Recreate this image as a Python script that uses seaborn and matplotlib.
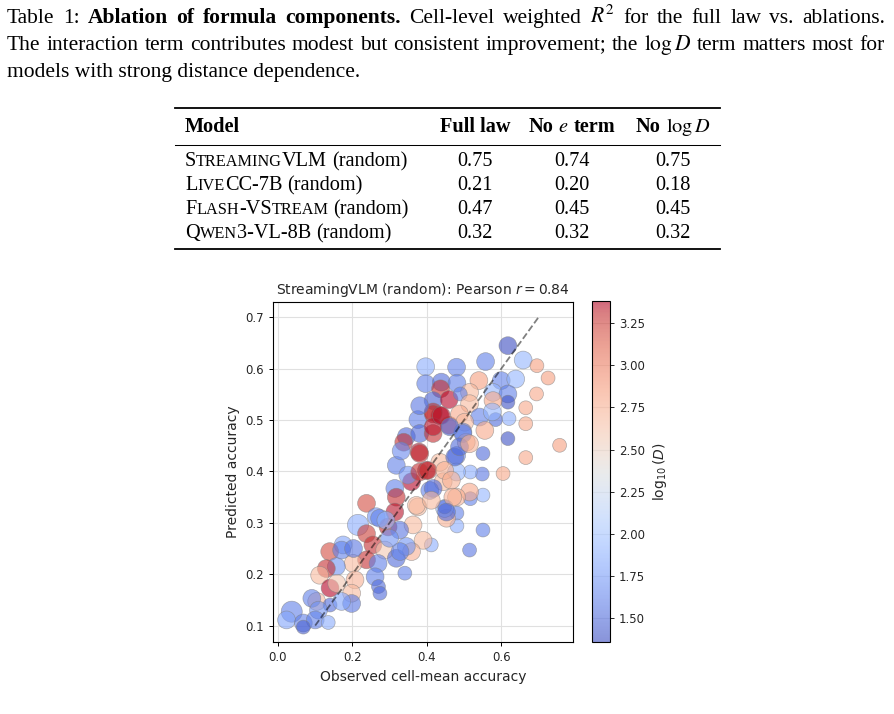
import matplotlib
matplotlib.use('Agg')
import numpy as np
import pandas as pd
import matplotlib.pyplot as plt
import seaborn as sns
from matplotlib.colors import Normalize
from matplotlib.cm import ScalarMappable
from matplotlib.lines import Line2D

# ---- table data ----
models = ['StreamingVLM', 'LiveCC-7B', 'Flash-VStream', 'Qwen3-VL-8B']
setting = '(random)'
full_law = ['0.75', '0.21', '0.47', '0.32']
no_e_term = ['0.74', '0.20', '0.45', '0.32']
no_log_d = ['0.75', '0.18', '0.45', '0.32']

# ---- scatter data (StreamingVLM, random) ----
obs = [0.618, 0.558, 0.659, 0.696, 0.397, 0.480, 0.726, 0.540, 0.600, 0.639,
       0.397, 0.439, 0.481, 0.437, 0.515, 0.417, 0.460, 0.490, 0.515, 0.578,
       0.618, 0.618, 0.578, 0.695, 0.666, 0.666, 0.542, 0.585, 0.621, 0.576,
       0.556, 0.376, 0.417, 0.435, 0.460, 0.488, 0.502, 0.345, 0.381, 0.417,
       0.497, 0.618, 0.757, 0.666, 0.605, 0.551, 0.549, 0.517, 0.551, 0.517,
       0.515, 0.480, 0.481, 0.506, 0.480, 0.480, 0.481, 0.551, 0.515, 0.412,
       0.390, 0.453, 0.448, 0.338, 0.318, 0.379, 0.399, 0.359, 0.314, 0.318,
       0.238, 0.314, 0.435, 0.444, 0.475, 0.408, 0.448, 0.376, 0.349, 0.215,
       0.264, 0.296, 0.238, 0.175, 0.139, 0.255, 0.287, 0.359, 0.363, 0.372,
       0.327, 0.318, 0.238, 0.202, 0.157, 0.130, 0.112, 0.269, 0.341, 0.345,
       0.171, 0.203, 0.328, 0.261, 0.140, 0.158, 0.207, 0.198, 0.198, 0.104,
       0.091, 0.270, 0.274, 0.140, 0.109, 0.037, 0.023, 0.068, 0.100, 0.135,
       0.068, 0.171, 0.381, 0.381, 0.403, 0.448, 0.466, 0.470, 0.417, 0.453,
       0.417, 0.417, 0.439, 0.497, 0.488, 0.462, 0.381, 0.273, 0.412, 0.515,
       0.331, 0.290, 0.300]
pred = [0.645, 0.614, 0.617, 0.606, 0.604, 0.603, 0.582, 0.577, 0.577, 0.580,
        0.571, 0.574, 0.572, 0.561, 0.554, 0.538, 0.540, 0.551, 0.532, 0.554,
        0.551, 0.535, 0.538, 0.551, 0.524, 0.493, 0.506, 0.501, 0.503, 0.516,
        0.480, 0.501, 0.516, 0.509, 0.490, 0.512, 0.496, 0.468, 0.474, 0.474,
        0.477, 0.464, 0.451, 0.427, 0.396, 0.435, 0.395, 0.399, 0.354, 0.347,
        0.360, 0.350, 0.319, 0.457, 0.431, 0.399, 0.294, 0.286, 0.247, 0.257,
        0.266, 0.309, 0.328, 0.457, 0.412, 0.438, 0.402, 0.380, 0.367, 0.350,
        0.338, 0.321, 0.418, 0.380, 0.428, 0.363, 0.331, 0.331, 0.393, 0.296,
        0.312, 0.292, 0.279, 0.257, 0.244, 0.257, 0.247, 0.244, 0.296, 0.334,
        0.286, 0.231, 0.228, 0.221, 0.215, 0.211, 0.198, 0.221, 0.202, 0.254,
        0.247, 0.250, 0.244, 0.195, 0.173, 0.182, 0.189, 0.163, 0.143, 0.147,
        0.153, 0.176, 0.163, 0.140, 0.130, 0.127, 0.111, 0.105, 0.111, 0.106,
        0.097, 0.147, 0.435, 0.399, 0.402, 0.402, 0.383, 0.350, 0.367, 0.321,
        0.512, 0.487, 0.509, 0.474, 0.448, 0.487, 0.528, 0.309, 0.344, 0.454,
        0.440, 0.305, 0.270]
log_d = [1.36, 1.60, 1.90, 2.85, 1.85, 1.60, 2.85, 2.85, 1.60, 1.90,
         1.60, 1.50, 1.60, 3.30, 2.70, 1.45, 3.38, 1.60, 2.70, 1.90,
         1.60, 1.38, 2.80, 2.80, 2.80, 2.80, 1.60, 1.50, 1.85, 1.90,
         2.80, 1.60, 3.30, 3.38, 3.30, 2.80, 2.70, 1.50, 1.50, 3.30,
         1.60, 1.38, 2.85, 2.80, 2.80, 1.50, 1.55, 1.85, 1.90, 1.60,
         2.80, 2.75, 1.60, 2.75, 1.60, 1.90, 1.85, 1.60, 1.55, 1.85,
         2.70, 2.75, 1.90, 3.30, 1.60, 3.35, 3.35, 3.38, 1.60, 3.30,
         3.20, 3.35, 2.70, 2.70, 1.50, 1.60, 1.50, 2.70, 1.70, 1.85,
         1.70, 3.30, 3.25, 1.80, 3.20, 3.30, 2.60, 2.75, 2.70, 2.70,
         1.55, 1.50, 3.30, 2.70, 1.70, 3.30, 2.70, 1.60, 1.60, 1.70,
         1.60, 1.55, 1.60, 1.60, 3.38, 2.60, 2.75, 2.70, 1.55, 2.70,
         1.60, 1.50, 1.50, 1.50, 1.70, 1.60, 1.80, 1.60, 1.60, 1.85,
         1.45, 1.80, 3.30, 3.30, 3.30, 2.75, 2.75, 2.75, 1.50, 1.50,
         3.30, 3.35, 3.35, 1.60, 1.50, 1.55, 1.55, 1.60, 2.70, 2.75,
         1.65, 1.90, 1.70]
weight = [3, 3, 3, 2, 3, 3, 2, 3, 3, 3,
          3, 3, 3, 3, 3, 3, 3, 2, 3, 3,
          3, 2, 3, 2, 2, 2, 3, 2, 2, 3,
          3, 3, 3, 3, 3, 3, 3, 3, 3, 3,
          3, 2, 2, 2, 2, 2, 2, 2, 2, 2,
          3, 3, 2, 3, 3, 3, 2, 2, 2, 2,
          3, 3, 3, 3, 3, 3, 3, 3, 3, 3,
          3, 3, 3, 3, 3, 3, 2, 3, 3, 4,
          3, 3, 3, 3, 3, 3, 3, 3, 3, 3,
          3, 3, 3, 3, 3, 3, 3, 3, 2, 3,
          3, 3, 3, 3, 3, 3, 3, 3, 3, 3,
          3, 2, 2, 2, 3, 4, 3, 3, 3, 2,
          2, 3, 3, 3, 3, 3, 3, 3, 3, 3,
          3, 3, 3, 3, 3, 3, 3, 3, 3, 3,
          3, 3, 3]
identity = [0.1, 0.7]
pearson_r = 0.84

W, H = 894, 714
fig = plt.figure(figsize=(W / 100, H / 100), dpi=100)
renderer = fig.canvas.get_renderer()

SERIF = 'Liberation Serif'
CAP_FS = 15.5   # caption size
TAB_FS = 14.6   # table size


def px(x, y):
    return x / W, 1 - y / H


def put(x, y, s, size, weight='normal'):
    return fig.text(*px(x, y), s, fontsize=size, fontweight=weight, family=SERIF,
                    math_fontfamily='stix', va='baseline', ha='left')


def width(t):
    return t.get_window_extent(renderer=renderer).width


def runs(x, y, pieces, ha='left', size=TAB_FS):
    # pieces: (text, size, weight) or None for a word space
    space = size * 100 / 72 * 0.25
    items, total = [], 0
    for p in pieces:
        if p is None:
            items.append((None, space))
            total += space
        else:
            t = put(0, y, p[0], p[1], p[2])
            w = width(t)
            items.append((t, w))
            total += w
    cx = x - total / 2 if ha == 'center' else x
    for t, w in items:
        if t is not None:
            t.set_position(px(cx, y))
        cx += w


def justify(tokens, y, x0, x1):
    texts = [put(0, y, s, CAP_FS, wt) for s, wt in tokens]
    ws = [width(t) for t in texts]
    gap = (x1 - x0 - sum(ws)) / (len(texts) - 1)
    cx = x0
    for t, w in zip(texts, ws):
        t.set_position(px(cx, y))
        cx += w + gap


def small_caps(name, k=0.8):
    pieces, cur, small = [], '', None
    for ch in name:
        is_small = ch.islower()
        if small is not None and is_small != small:
            pieces.append((cur, TAB_FS * k if small else TAB_FS, 'normal'))
            cur = ''
        cur += ch.upper()
        small = is_small
    pieces.append((cur, TAB_FS * k if small else TAB_FS, 'normal'))
    return pieces


# ---- caption ----
line1 = [('Table', 'normal'), ('1:', 'normal'), ('Ablation', 'bold'), ('of', 'bold'),
         ('formula', 'bold'), ('components.', 'bold'), ('Cell-level', 'normal'),
         ('weighted', 'normal'), ('$R^2$', 'normal'), ('for', 'normal'), ('the', 'normal'),
         ('full', 'normal'), ('law', 'normal'), ('vs.', 'normal'), ('ablations.', 'normal')]
line2 = [(w, 'normal') for w in 'The interaction term contributes modest but consistent improvement; the'.split()]
line2 += [(r'$\log D$', 'normal')]
line2 += [(w, 'normal') for w in 'term matters most for'.split()]
justify(line1, 23, 7, 885)
justify(line2, 50, 7, 885)
put(7, 77, 'models with strong distance dependence.', CAP_FS)

# ---- table ----
col_x = [475, 572, 673]
fig.add_artist(Line2D([175 / W, 720 / W], [1 - 108 / H] * 2, color='black', lw=1.3))
fig.add_artist(Line2D([175 / W, 720 / W], [1 - 145 / H] * 2, color='black', lw=0.75))
fig.add_artist(Line2D([175 / W, 720 / W], [1 - 249 / H] * 2, color='black', lw=1.3))
put(185, 132, 'Model', TAB_FS, weight='bold')
runs(col_x[0], 132, [('Full law', TAB_FS, 'bold')], ha='center')
runs(col_x[1], 132, [('No', TAB_FS, 'bold'), None, ('$e$', TAB_FS, 'normal'), None,
                     ('term', TAB_FS, 'bold')], ha='center')
runs(col_x[2], 132, [('No', TAB_FS, 'bold'), None, (r'$\log D$', TAB_FS, 'normal')], ha='center')
for i, m in enumerate(models):
    y = 166 + 24 * i
    runs(185, y, small_caps(m) + [None, (setting, TAB_FS, 'normal')])
    for cx, vals in zip(col_x, [full_law, no_e_term, no_log_d]):
        runs(cx, y, [(vals[i], TAB_FS, 'normal')], ha='center')

# ---- scatter ----
sns.set_style('ticks', {'axes.grid': True, 'grid.color': '#e6e6e6', 'axes.edgecolor': 'black'})
plt.rcParams['font.family'] = ['DejaVu Sans']

ax = fig.add_axes([273 / W, 72 / H, 300 / W, 340 / H])
cax = fig.add_axes([592 / W, 72 / H, 18 / W, 341 / H])

df = pd.DataFrame({'obs': obs, 'pred': pred, 'log_d': log_d, 'weight': weight})
norm = Normalize(min(log_d), max(log_d))
sns.scatterplot(data=df, x='obs', y='pred', hue='log_d', size='weight', sizes=(100, 230),
                size_norm=(2, 4), palette='coolwarm', hue_norm=norm, alpha=0.6,
                edgecolor='grey', linewidth=0.5, legend=False, ax=ax, zorder=2)
ax.plot(identity, identity, ls='--', color='black', alpha=0.5, lw=1.3, zorder=3)
ax.set_xlim(-0.0134, 0.793)
ax.set_ylim(0.068, 0.730)
ax.set_xticks([0.0, 0.2, 0.4, 0.6])
ax.set_yticks([0.1, 0.2, 0.3, 0.4, 0.5, 0.6, 0.7])
ax.grid(True, color='#e0e0e0', lw=0.8, zorder=0)
ax.set_axisbelow(True)
for sp in ax.spines.values():
    sp.set_color('black')
    sp.set_linewidth(0.8)
ax.tick_params(labelsize=8.5, length=3, width=0.7, color='black')
ax.set_xlabel('Observed cell-mean accuracy', fontsize=10)
ax.set_ylabel('Predicted accuracy', fontsize=10)
ax.set_title(f'StreamingVLM (random): Pearson $r = {pearson_r:.2f}$', fontsize=10, pad=6)

sm = ScalarMappable(norm=norm, cmap='coolwarm')
cb = fig.colorbar(sm, cax=cax, alpha=0.6)
cb.outline.set_edgecolor('black')
cb.outline.set_linewidth(0.8)
cb.ax.tick_params(labelsize=8.5, length=3, width=0.7)
cb.set_label(r'$\log_{10}(D)$', fontsize=10)

fig.savefig('out.png', dpi=100)
